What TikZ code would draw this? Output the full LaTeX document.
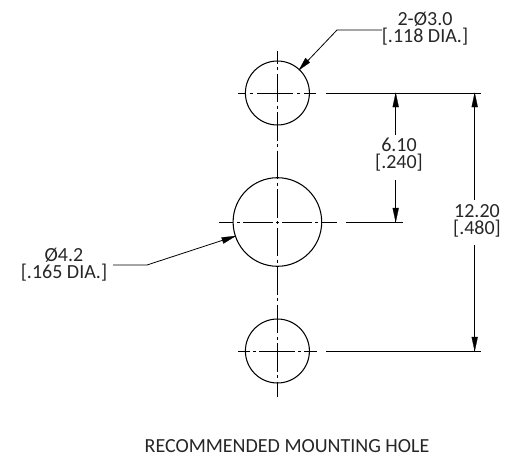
\documentclass[tikz,border=0pt]{standalone}
\usepackage{fontspec}
\setmainfont{Carlito}
\tikzset{
  x=1pt,y=-1pt,
  outline/.style={draw=black,line width=1.05pt,circle,inner sep=0pt,minimum size=#1},
  centerln/.style={draw=black,line width=0.8pt},
  extln/.style={draw=black,line width=1pt},
  dimln/.style={draw=black,line width=0.8pt},
  tipfill/.style={fill=black,draw=black,line width=0.2pt},
  lbl/.style={inner sep=0pt,align=center,text=black!85,font=\fontsize{20}{17}\selectfont},
}
\begin{document}
\begin{tikzpicture}
\useasboundingbox (0,0) rectangle (507,458);
\node[outline=64pt] (top) at (277.4,93) {};
\node[outline=88.6pt] (mid) at (277.4,222) {};
\node[outline=64pt] (bot) at (277.4,351) {};
% centre lines
\coordinate (vt) at (277.4,51); \coordinate (vb) at (277.4,397);
\draw[centerln,dash pattern=on 28.5pt off 3.5pt on 3pt off 3.5pt,dash phase=16pt] (vt) -- (vb);
\coordinate (tl) at (238,93); \coordinate (tr) at (317,93);
\draw[centerln,dash pattern=on 8pt off 4pt on 3pt off 4pt on 36pt off 4pt on 3pt off 4pt on 12pt] (tl) -- (tr);
\coordinate (ml) at (219,222); \coordinate (mr) at (337,222);
\draw[centerln,dash pattern=on 14pt off 4pt on 3pt off 3pt on 30pt off 3pt on 3pt off 3pt on 30pt off 3pt on 3pt off 4pt on 15pt] (ml) -- (mr);
\coordinate (bl) at (238,351); \coordinate (br) at (317,351);
\draw[centerln,dash pattern=on 12pt off 3pt on 3pt off 3pt on 36pt off 3pt on 3pt off 3pt on 13pt] (bl) -- (br);
% extension lines
\coordinate (e1a) at (326,93); \coordinate (e1b) at (481,93);
\coordinate (e2a) at (346,222); \coordinate (e2b) at (403,222);
\coordinate (e3a) at (326,351); \coordinate (e3b) at (481,351);
\draw[extln] (e1a)--(e1b) (e2a)--(e2b) (e3a)--(e3b);
% labels
\node[lbl] (l1) at (425,29) {2-Ø3.0\\{[.118 DIA.]}};
\node[lbl] (l2) at (399,155) {6.10\\{[.240]}};
\node[lbl] (l3) at (477,221) {12.20\\{[.480]}};
\node[lbl] (l4) at (64,265) {Ø4.2\\{[.165 DIA.]}};
\node[lbl] (title) at (287,446) {RECOMMENDED MOUNTING HOLE};
% dimensions
\coordinate (d1t) at (395.7,93); \coordinate (d1a) at (395.7,135);
\coordinate (d1b) at (395.7,180); \coordinate (d1c) at (395.7,222);
\coordinate (d2t) at (474.7,93); \coordinate (d2a) at (474.7,200);
\coordinate (d2b) at (474.7,245); \coordinate (d2c) at (474.7,351);
\draw[dimln] (d1t)--(d1a) (d1b)--(d1c) (d2t)--(d2a) (d2b)--(d2c);
\foreach \n in {d1t,d2t}{\fill[tipfill] (\n) -- ++(3,14) -- ++(-6,0) -- cycle;}
\foreach \n in {d1c,d2c}{\fill[tipfill] (\n) -- ++(3,-14) -- ++(-6,0) -- cycle;}
% leaders
\coordinate (a1) at (382,30); \coordinate (a2) at (337,30); \coordinate (a3) at (299,70);
\draw[dimln] (a1)--(a2)--(a3);
\fill[tipfill] (a3) -- (309.8,62.5) -- (305.5,58) -- cycle;
\coordinate (b1) at (113,265); \coordinate (b2) at (147,265); \coordinate (b3) at (235.7,236);
\draw[dimln] (b1)--(b2)--(b3);
\fill[tipfill] (b3) -- (223.5,243.5) -- (221.5,237.5) -- cycle;
\end{tikzpicture}
\end{document}
